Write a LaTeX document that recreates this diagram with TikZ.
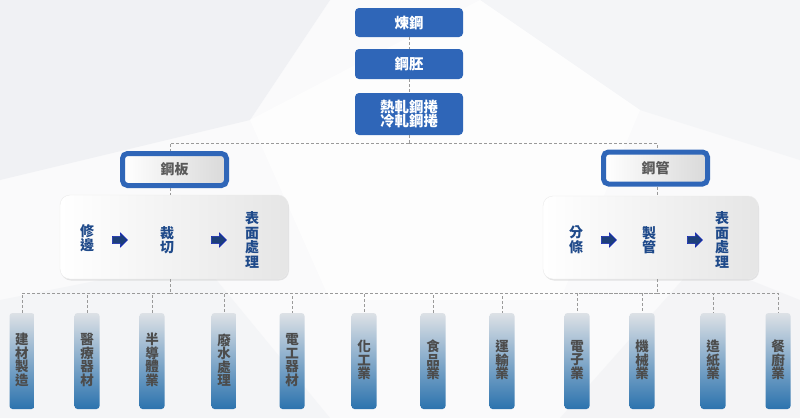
\documentclass[tikz,border=0pt]{standalone}
\usepackage{fontspec}
\newfontfamily\cjk{Noto Sans CJK TC}
\usetikzlibrary{shapes.arrows,shadows}
\definecolor{topblue}{HTML}{2F66B8}
\definecolor{procblue}{HTML}{1F4A8A}
\definecolor{arrowblue}{HTML}{1D3F7A}
\definecolor{pillartop}{HTML}{DDE1E6}
\definecolor{pillarbot}{HTML}{2C73AE}
\definecolor{conngray}{HTML}{9A9A9A}
\definecolor{bgA}{HTML}{FAFAFB}
\definecolor{bgB}{HTML}{F0F1F4}
\definecolor{bgC}{HTML}{F4F5F7}
\tikzset{
  topbox/.style={fill=topblue, rounded corners=4pt, minimum width=108pt, text=white,
    font=\cjk\bfseries\fontsize{14.5}{16}\selectfont, align=center, inner sep=0pt},
  catbox/.style={draw=topblue, line width=5pt, rounded corners=5pt, left color=white, right color=black!15,
    minimum width=104pt, minimum height=32pt, text=black!65, font=\cjk\bfseries\fontsize{14}{16}\selectfont},
  procbox/.style={draw=black!8, rounded corners=10pt, left color=white, right color=black!10,
    drop shadow={shadow xshift=1pt, shadow yshift=-1.5pt, fill=black!25, opacity=0.4}},
  proctext/.style={text=procblue, font=\cjk\bfseries\fontsize{14}{14.5}\selectfont, align=center, inner sep=0pt},
  procarrow/.style={single arrow, fill=arrowblue, draw=blue!45!arrowblue, line width=0.6pt,
    minimum height=15pt, minimum width=14pt, single arrow head extend=3pt, inner sep=3pt},
  pillar/.style={rounded corners=3pt, top color=pillartop, bottom color=pillarbot,
    minimum width=25pt, minimum height=96pt, inner sep=0pt},
  pillartext/.style={text=black!70, font=\cjk\bfseries\fontsize{13.5}{13.5}\selectfont, align=center, inner sep=0pt},
  conn/.style={draw=conngray, line width=0.8pt, dash pattern=on 3pt off 2pt}
}
\begin{document}
\begin{tikzpicture}[x=1pt,y=-1pt]
\useasboundingbox (0,0) rectangle (800,418);
% background
\fill[bgA] (0,0) rectangle (800,418);
\fill[bgB] (0,0) -- (330,0) -- (250,120) -- (0,180) -- cycle;
\fill[bgC] (480,0) -- (800,0) -- (800,160) -- (640,110) -- cycle;
\fill[bgC] (0,300) -- (200,260) -- (330,418) -- (0,418) -- cycle;
\fill[bgB,opacity=0.6] (560,418) -- (700,260) -- (800,300) -- (800,418) -- cycle;
\fill[white,opacity=0.7] (250,120) -- (480,0) -- (640,110) -- (560,300) -- (330,300) -- cycle;

% top chain
\node[topbox, minimum height=29pt] (smelt) at (409,22.5) {煉鋼};
\node[topbox, minimum height=30pt] (billet) at (409,64) {鋼胚};
\node[topbox, minimum height=42pt] (coil) at (409,114) {熱軋鋼捲\\[-2pt]冷軋鋼捲};

% categories
\node[catbox] (plate) at (174.5,169.5) {鋼板};
\node[catbox] (pipe) at (655.5,168) {鋼管};

% process boxes
\node[procbox, minimum width=228pt, minimum height=84pt] (procL) at (174,237) {};
\node[procbox, minimum width=215pt, minimum height=83pt] (procR) at (650.5,237.5) {};

\node[proctext] (trim) at (87,238) {修\\邊};
\node[procarrow] (a1) at (118,240) {};
\node[proctext] (cut) at (167,240) {裁\\切};
\node[procarrow] (a2) at (217,240) {};
\node[proctext] (surfL) at (252,240) {表\\面\\處\\理};

\node[proctext] (slit) at (576,240) {分\\條};
\node[procarrow] (a3) at (607,240) {};
\node[proctext] (make) at (649,240) {製\\管};
\node[procarrow] (a4) at (693,240) {};
\node[proctext] (surfR) at (722,240) {表\\面\\處\\理};

% pillars
\foreach \n/\x/\t in {p1/22/建\\材\\製\\造, p2/87/醫\\療\\器\\材, p3/152/半\\導\\體\\業, p4/224/廢\\水\\處\\理,
  p5/292/電\\工\\器\\材, p6/364/化\\工\\業, p7/433/食\\品\\業, p8/502/運\\輸\\業,
  p9/577/電\\子\\業, p10/642/機\\械\\業, p11/713/造\\紙\\業, p12/778/餐\\廚\\業}{
  \node[pillar] (\n) at (\x,361) {};
  \node[pillartext] (\n t) at (\x,360) {\t};
}

% connectors
\draw[conn] (smelt) -- (billet);
\draw[conn] (billet) -- (coil);
\coordinate (hub) at (409,143);
\coordinate (jl) at (170,143);
\coordinate (jr) at (657,143);
\draw[conn] (coil.south) -- (hub);
\draw[conn] (hub) -- (jl) -- (jl |- plate.north);
\draw[conn] (hub) -- (jr) -- (jr |- pipe.north);
\draw[conn] (jl |- plate.south) -- (jl |- procL.north);
\draw[conn] (jr |- pipe.south) -- (jr |- procR.north);
\coordinate (busL) at (170,293);
\coordinate (busR) at (657,293);
\draw[conn] (busL |- procL.south) -- (busL);
\draw[conn] (busR |- procR.south) -- (busR);
\draw[conn] (busL) -- (busR);
\foreach \n in {p1,p2,p3,p4,p5,p6,p7,p8}{\draw[conn] (busL) -| (\n.north);}
\foreach \n in {p9,p10,p11,p12}{\draw[conn] (busR) -| (\n.north);}
\end{tikzpicture}
\end{document}
